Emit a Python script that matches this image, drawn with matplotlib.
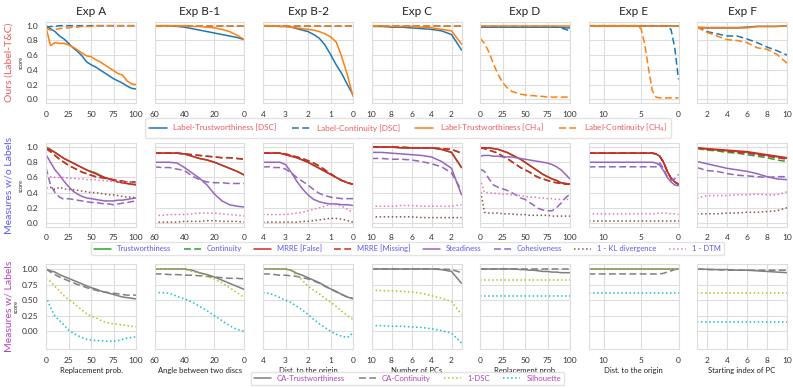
import matplotlib
matplotlib.use("Agg")
import matplotlib.pyplot as plt
from matplotlib.lines import Line2D
import seaborn as sns

sns.set_style("whitegrid")
plt.rcParams['font.family'] = ['Lato', 'DejaVu Sans']

# ---------------- data ----------------
titles = ['Exp A', 'Exp B-1', 'Exp B-2', 'Exp C', 'Exp D', 'Exp E', 'Exp F']
xlabels = ['Replacement prob.', 'Angle between two discs', 'Dist. to the origin',
           'Number of PCs', 'Replacement prob.', 'Dist. to the origin',
           'Starting index of PC']
xticks = [[0, 25, 50, 75, 100], [60, 40, 20, 0], [4, 3, 2, 1, 0], [10, 8, 6, 4, 2],
          [0, 25, 50, 75, 100], [10, 5, 0], [2, 4, 6, 8, 10]]

x_A = [0, 5, 10, 15, 20, 25, 30, 35, 40, 45, 50, 55, 60, 65, 70, 75, 80, 85, 90, 95, 100]
x_B1 = [60, 55, 50, 45, 40, 35, 30, 25, 20, 15, 10, 5, 0]
x_B2 = [4, 3.75, 3.5, 3.25, 3, 2.75, 2.5, 2.25, 2, 1.75, 1.5, 1.25, 1, 0.75, 0.5, 0.25, 0]
x_C = [10, 9, 8, 7, 6, 5, 4, 3, 2, 1]
x_D = [0, 5, 10, 15, 20, 25, 30, 35, 40, 45, 50, 55, 60, 65, 70, 75, 80, 85, 90, 95, 100]
x_E = [12, 10, 8, 6, 5.5, 5, 4.5, 4, 3.5, 3, 2.5, 2, 1.5, 1, 0.5, 0]
x_F = [1, 2, 3, 4, 5, 6, 7, 8, 9, 10]

# row 1: Label-T [DSC], Label-C [DSC], Label-T [CH4], Label-C [CH4]
ours_A = [
    [1.00, .96, .92, .86, .82, .76, .70, .65, .59, .51, .47, .44, .40, .36, .32, .28, .25, .22, .18, .15, .14],
    [.97, .99, .99, 1.0, 1.0, 1.0, 1.0, 1.0, 1.0, 1.0, 1.0, 1.0, 1.0, 1.0, 1.0, 1.0, 1.0, 1.0, 1.0, 1.0, 1.0],
    [.98, .73, .77, .76, .76, .74, .71, .67, .63, .59, .58, .54, .51, .47, .43, .39, .35, .33, .25, .21, .20],
    [.97, .94, .95, .96, .97, .97, .98, .98, .99, .99, .99, 1.0, 1.0, 1.0, 1.0, 1.0, 1.0, 1.0, 1.0, 1.0, 1.0],
]
ours_B1 = [
    [1.0, 1.0, 1.0, .99, .98, .96, .94, .92, .90, .88, .86, .84, .81],
    [1.0, 1.0, 1.0, 1.0, 1.0, 1.0, 1.0, 1.0, 1.0, 1.0, 1.0, 1.0, 1.0],
    [1.0, 1.0, 1.0, 1.0, 1.0, .99, .99, .98, .97, .95, .92, .87, .81],
    [1.0, 1.0, 1.0, 1.0, 1.0, 1.0, 1.0, 1.0, 1.0, 1.0, 1.0, 1.0, 1.0],
]
ours_B2 = [
    [1.0, 1.0, .995, .99, .99, .98, .96, .94, .92, .88, .83, .74, .61, .47, .35, .20, .06],
    [1.0, 1.0, 1.0, 1.0, 1.0, 1.0, 1.0, 1.0, 1.0, 1.0, 1.0, 1.0, 1.0, 1.0, 1.0, 1.0, 1.0],
    [1.0, 1.0, 1.0, .99, .99, .98, .97, .96, .95, .94, .92, .89, .85, .78, .58, .33, .04],
    [1.0, 1.0, 1.0, 1.0, 1.0, 1.0, 1.0, 1.0, 1.0, 1.0, 1.0, 1.0, 1.0, 1.0, 1.0, 1.0, 1.0],
]
ours_C = [
    [.99, .99, .98, .98, .97, .96, .95, .93, .88, .67],
    [1.0, 1.0, 1.0, 1.0, 1.0, 1.0, 1.0, 1.0, 1.0, 1.0],
    [1.0, 1.0, .99, .99, .99, .98, .97, .95, .93, .75],
    [1.0, 1.0, 1.0, 1.0, 1.0, 1.0, 1.0, 1.0, 1.0, 1.0],
]
ours_D = [
    [.98, .98, .98, .98, .98, .98, .98, .98, .98, .98, .98, .98, .98, .98, .98, .98, .98, .98, .98, .97, .97],
    [.99, .99, .99, .99, .99, .99, .99, .99, .99, .99, .99, .99, .99, .99, .99, .99, .99, .98, .97, .95, .93],
    [1.0, 1.0, 1.0, 1.0, 1.0, 1.0, 1.0, 1.0, 1.0, 1.0, 1.0, 1.0, 1.0, 1.0, 1.0, 1.0, 1.0, 1.0, 1.0, 1.0, 1.0],
    [.83, .76, .64, .48, .34, .23, .16, .11, .09, .07, .06, .05, .05, .04, .04, .03, .03, .03, .03, .03, .03],
]
ours_E = [
    [1.0, 1.0, 1.0, 1.0, 1.0, 1.0, 1.0, 1.0, 1.0, 1.0, 1.0, 1.0, 1.0, 1.0, 1.0, 1.0],
    [1.0, 1.0, 1.0, 1.0, 1.0, 1.0, 1.0, 1.0, 1.0, 1.0, 1.0, 1.0, .99, .95, .70, .27],
    [1.0, 1.0, 1.0, 1.0, 1.0, 1.0, 1.0, 1.0, 1.0, 1.0, 1.0, 1.0, 1.0, 1.0, 1.0, 1.0],
    [1.0, 1.0, 1.0, 1.0, 1.0, .96, .75, .42, .12, .03, .02, .02, .02, .02, .02, .02],
]
ours_F = [
    [.97, .97, .97, .97, .97, .98, .99, .99, .99, 1.0],
    [.98, .92, .89, .86, .86, .82, .77, .71, .66, .60],
    [.98, .97, .97, .97, .97, .97, .99, .99, .99, 1.0],
    [.98, .91, .86, .81, .80, .77, .70, .68, .61, .49],
]

# row 2: T, C, MRRE [False], MRRE [Missing], Steadiness, Cohesiveness, 1-KL, 1-DTM
meas_A = [
    [1.0, .97, .93, .89, .85, .82, .79, .76, .73, .70, .68, .66, .63, .60, .58, .56, .54, .53, .52, .51, .51],
    [.98, .94, .89, .84, .80, .76, .73, .70, .67, .65, .63, .61, .60, .59, .58, .57, .56, .55, .54, .54, .54],
    [.99, .96, .93, .89, .85, .82, .79, .76, .73, .70, .67, .65, .62, .60, .58, .56, .54, .53, .52, .51, .50],
    [.98, .94, .89, .84, .80, .76, .73, .70, .67, .65, .63, .61, .60, .59, .58, .57, .56, .55, .54, .54, .54],
    [.90, .80, .70, .63, .55, .48, .42, .38, .35, .33, .32, .31, .30, .29, .29, .29, .30, .30, .31, .32, .33],
    [.73, .50, .40, .34, .31, .32, .31, .30, .29, .28, .27, .27, .26, .25, .25, .24, .25, .26, .27, .28, .29],
    [.46, .47, .44, .47, .45, .44, .44, .43, .42, .41, .40, .40, .39, .38, .37, .37, .36, .35, .34, .34, .33],
    [.62, .61, .60, .60, .60, .59, .59, .58, .58, .57, .57, .57, .56, .56, .55, .55, .54, .54, .54, .54, .54],
]
meas_B1 = [
    [.92, .92, .92, .92, .91, .88, .85, .83, .80, .76, .72, .68, .63],
    [.92, .92, .92, .92, .91, .90, .89, .88, .87, .86, .86, .85, .84],
    [.92, .92, .92, .92, .91, .88, .85, .83, .80, .76, .72, .68, .63],
    [.92, .92, .92, .92, .91, .90, .89, .88, .87, .86, .86, .85, .84],
    [.80, .80, .80, .79, .73, .66, .59, .50, .38, .29, .24, .22, .21],
    [.74, .73, .73, .71, .69, .62, .57, .54, .53, .53, .52, .52, .52],
    [.01, .01, .01, .01, .02, .02, .02, .03, .03, .02, .02, .02, .01],
    [.10, .10, .11, .11, .11, .12, .13, .13, .13, .12, .11, .10, .09],
]
meas_B2 = [
    [.92, .92, .92, .92, .90, .88, .86, .83, .80, .76, .72, .68, .64, .60, .56, .53, .51],
    [.92, .92, .92, .92, .91, .89, .87, .85, .82, .79, .75, .70, .65, .60, .56, .53, .51],
    [.92, .92, .92, .92, .90, .88, .86, .83, .80, .76, .72, .68, .64, .60, .56, .53, .51],
    [.92, .92, .92, .92, .91, .89, .87, .85, .82, .79, .75, .70, .65, .60, .56, .53, .51],
    [.80, .80, .80, .80, .77, .67, .55, .45, .37, .31, .28, .26, .25, .25, .24, .24, .23],
    [.74, .74, .73, .73, .71, .66, .60, .55, .50, .44, .39, .36, .34, .33, .32, .32, .32],
    [.01, .01, .01, .01, .01, .01, .01, .02, .02, .03, .04, .05, .06, .06, .05, .03, .01],
    [.11, .11, .11, .11, .11, .12, .13, .14, .16, .18, .20, .22, .24, .24, .22, .18, .14],
]
meas_C = [
    [1.0, 1.0, 1.0, .99, .99, .99, .99, .97, .93, .73],
    [1.0, 1.0, 1.0, 1.0, .99, .99, .99, .98, .97, .92],
    [1.0, 1.0, 1.0, .99, .99, .99, .99, .97, .93, .73],
    [1.0, 1.0, 1.0, 1.0, .99, .99, .99, .98, .97, .92],
    [.93, .93, .92, .91, .90, .89, .87, .81, .72, .37],
    [.85, .85, .84, .84, .83, .81, .78, .74, .66, .43],
    [.08, .08, .08, .08, .08, .07, .07, .07, .07, .07],
    [.22, .22, .22, .23, .23, .22, .22, .22, .22, .24],
]
meas_D = [
    [.99, .99, .99, .98, .97, .95, .93, .90, .87, .84, .80, .76, .72, .68, .64, .61, .58, .56, .53, .52, .51],
    [.99, .98, .96, .94, .92, .88, .85, .81, .77, .73, .70, .67, .63, .60, .58, .56, .54, .53, .52, .51, .51],
    [.99, .99, .99, .98, .97, .95, .93, .90, .87, .84, .80, .76, .72, .68, .64, .61, .58, .56, .53, .52, .51],
    [.99, .98, .96, .94, .92, .88, .85, .81, .77, .73, .70, .67, .63, .60, .58, .56, .54, .53, .52, .51, .51],
    [.88, .89, .89, .88, .88, .87, .87, .87, .86, .85, .84, .83, .82, .81, .80, .79, .77, .74, .70, .64, .58],
    [.71, .68, .58, .50, .47, .45, .43, .40, .37, .33, .31, .27, .23, .19, .17, .16, .16, .20, .26, .33, .38],
    [.46, .14, .13, .13, .13, .12, .12, .12, .11, .11, .11, .10, .10, .10, .10, .10, .09, .09, .09, .09, .09],
    [.58, .40, .40, .39, .39, .38, .38, .37, .37, .36, .35, .34, .34, .33, .33, .32, .32, .31, .31, .31, .31],
]
meas_E = [
    [.92, .92, .92, .92, .92, .92, .92, .92, .92, .91, .88, .80, .68, .59, .54, .51],
    [.92, .92, .92, .92, .92, .92, .92, .92, .92, .91, .88, .80, .68, .59, .54, .51],
    [.92, .92, .92, .92, .92, .92, .92, .92, .92, .91, .88, .80, .68, .59, .54, .51],
    [.92, .92, .92, .92, .92, .92, .92, .92, .92, .91, .88, .80, .68, .59, .54, .51],
    [.80, .80, .80, .80, .80, .80, .80, .80, .80, .79, .76, .69, .60, .54, .50, .49],
    [.74, .74, .74, .74, .74, .74, .74, .74, .74, .74, .79, .72, .61, .56, .58, .64],
    [.02, .02, .02, .02, .02, .02, .02, .02, .02, .02, .02, .02, .02, .02, .02, .02],
    [.12, .12, .12, .12, .12, .12, .12, .12, .12, .12, .13, .13, .13, .12, .12, .11],
]
meas_F = [
    [.99, .97, .96, .95, .94, .93, .91, .89, .87, .85],
    [.98, .96, .95, .93, .92, .90, .88, .86, .83, .81],
    [.99, .98, .97, .96, .95, .94, .92, .90, .88, .86],
    [.99, .97, .96, .95, .93, .92, .90, .88, .86, .84],
    [.81, .78, .75, .72, .70, .68, .65, .61, .58, .57],
    [.73, .69, .68, .65, .63, .62, .61, .60, .61, .61],
    [.12, .12, .12, .13, .13, .14, .14, .15, .16, .20],
    [.33, .36, .36, .36, .37, .37, .38, .37, .37, .41],
]

# row 3: CA-T, CA-C, 1-DSC, Silhouette
lab_A = [
    [1.0, .97, .95, .91, .88, .85, .82, .79, .76, .73, .70, .68, .65, .63, .61, .59, .57, .55, .54, .53, .52],
    [1.0, .95, .91, .87, .84, .81, .78, .75, .73, .70, .68, .66, .64, .63, .62, .61, .60, .59, .58, .58, .58],
    [.85, .80, .72, .65, .57, .51, .46, .40, .34, .28, .24, .22, .18, .15, .13, .12, .11, .10, .09, .08, .07],
    [.56, .38, .24, .17, .10, .02, -.03, -.07, -.10, -.13, -.14, -.15, -.15, -.16, -.16, -.16, -.15, -.13, -.11, -.10, -.09],
]
lab_B1 = [
    [1.0, 1.0, 1.0, 1.0, 1.0, .98, .94, .91, .87, .82, .77, .72, .67],
    [.92, .92, .91, .91, .90, .90, .89, .88, .87, .86, .85, .85, .84],
    [1.0, 1.0, 1.0, 1.0, 1.0, .96, .93, .88, .84, .78, .70, .62, .54],
    [.62, .62, .61, .56, .52, .47, .40, .33, .25, .17, .09, .03, .00],
]
lab_B2 = [
    [1.0, 1.0, 1.0, 1.0, 1.0, .98, .93, .90, .86, .82, .78, .73, .68, .64, .59, .55, .52],
    [.92, .92, .91, .90, .90, .89, .88, .86, .84, .81, .77, .72, .68, .63, .59, .55, .53],
    [1.0, 1.0, 1.0, 1.0, 1.0, .97, .90, .82, .72, .66, .60, .53, .47, .40, .32, .25, .19],
    [.62, .61, .58, .54, .50, .46, .40, .34, .27, .19, .12, .06, .00, -.05, -.08, -.10, -.03],
]
lab_C = [
    [1.0, 1.0, 1.0, 1.0, 1.0, 1.0, 1.0, .99, .96, .77],
    [1.0, 1.0, 1.0, 1.0, 1.0, 1.0, 1.0, 1.0, .99, .94],
    [.66, .65, .65, .64, .63, .61, .57, .53, .48, .27],
    [.09, .09, .08, .08, .07, .06, .04, .01, -.03, -.19],
]
lab_D = [
    [1.0, 1.0, 1.0, 1.0, 1.0, 1.0, 1.0, 1.0, 1.0, .99, .99, .98, .98, .97, .96, .96, .95, .95, .94, .94, .94],
    [1.0, 1.0, 1.0, 1.0, 1.0, 1.0, 1.0, 1.0, 1.0, 1.0, 1.0, 1.0, 1.0, 1.0, 1.0, 1.0, 1.0, 1.0, 1.0, 1.0, 1.0],
    [.83, .83, .83, .83, .83, .83, .83, .83, .83, .83, .83, .83, .83, .83, .83, .83, .83, .83, .83, .83, .83],
    [.57, .57, .57, .57, .57, .57, .57, .57, .57, .57, .57, .57, .57, .57, .57, .57, .57, .57, .57, .57, .57],
]
lab_E = [
    [1.0, 1.0, 1.0, 1.0, 1.0, 1.0, 1.0, 1.0, 1.0, 1.0, 1.0, 1.0, 1.0, 1.0, 1.0, 1.0],
    [.92, .92, .92, .92, .92, .92, .92, .92, .92, .92, .92, .93, .95, .97, .99, 1.0],
    [1.0, 1.0, 1.0, 1.0, 1.0, 1.0, 1.0, 1.0, 1.0, 1.0, 1.0, 1.0, 1.0, 1.0, 1.0, 1.0],
    [.62, .62, .62, .62, .62, .62, .62, .62, .62, .62, .62, .62, .62, .62, .62, .62],
]
lab_F = [
    [1.0, .995, .99, .99, .98, .98, .97, .96, .95, .94],
    [1.0, .99, .99, .98, .98, .98, .98, .98, .98, .98],
    [.62, .62, .62, .62, .62, .62, .62, .62, .62, .62],
    [.155, .155, .155, .155, .155, .155, .155, .155, .155, .155],
]

xs = [x_A, x_B1, x_B2, x_C, x_D, x_E, x_F]
rows = [
    [ours_A, ours_B1, ours_B2, ours_C, ours_D, ours_E, ours_F],
    [meas_A, meas_B1, meas_B2, meas_C, meas_D, meas_E, meas_F],
    [lab_A, lab_B1, lab_B2, lab_C, lab_D, lab_E, lab_F],
]

labels1 = ['Label-Trustworthiness [DSC]', 'Label-Continuity [DSC]',
           'Label-Trustworthiness [CH$_4$]', 'Label-Continuity [CH$_4$]']
labels2 = ['Trustworthiness', 'Continuity', 'MRRE [False]', 'MRRE [Missing]',
           'Steadiness', 'Cohesiveness', '1 - KL divergence', '1 - DTM']
labels3 = ['CA-Trustworthiness', 'CA-Continuity', '1-DSC', 'Silhouette']

# ---------------- styling ----------------
styles = [
    [('#1f77b4', '-'), ('#1f77b4', '--'), ('#ff7f0e', '-'), ('#ff7f0e', '--')],
    [('#2ca02c', '-'), ('#2ca02c', '--'), ('#d62728', '-'), ('#d62728', '--'),
     ('#9467bd', '-'), ('#9467bd', '--'), ('#8c564b', ':'), ('#e377c2', ':')],
    [('#7f7f7f', '-'), ('#7f7f7f', '--'), ('#bcbd22', ':'), ('#17becf', ':')],
]
row_names = ['Ours (Label-T&C)', 'Measures w/o Labels', 'Measures w/ Labels']
row_colors = ['#f05a5a', '#5a5af5', '#b043b8']
legend_labels = [labels1, labels2, labels3]
legend_fs = [5.9, 5.5, 5.6]
legend_cs = [1.9, 1.6, 1.7]

W, H = 793, 388
fig = plt.figure(figsize=(W / 100, H / 100), dpi=100)

lefts = [46, 154.5, 263, 371.5, 480, 588.5, 697]
aw = 90
row_box = [(22, 103), (143.3, 226.7), (264.3, 349.3)]
ylims = [(-0.05, 1.05), (-0.05, 1.05), (-0.29, 1.075)]
yticks = [[0, .2, .4, .6, .8, 1.0], [0, .2, .4, .6, .8, 1.0], [0, .25, .5, .75, 1.0]]
xlims = [(0, 100), (60, 0), (4, 0), (10, 1), (0, 100), (12, 0), (1, 10)]


def draw_line(ax, x, vals, col, ls):
    if ls == '--':
        ax.plot(x, vals, color=col, lw=1.1, dashes=(4.5, 2.2))
    else:
        ax.plot(x, vals, color=col, ls=ls, lw=1.1)


for r in range(3):
    top, bot = row_box[r]
    for c in range(7):
        ax = fig.add_axes([lefts[c] / W, 1 - bot / H, aw / W, (bot - top) / H])
        for vals, (col, ls) in zip(rows[r][c], styles[r]):
            draw_line(ax, xs[c], vals, col, ls)
        ax.set_xlim(*xlims[c])
        ax.set_ylim(*ylims[r])
        ax.set_xticks(xticks[c])
        ax.set_yticks(yticks[r])
        ax.tick_params(labelsize=6, pad=2, colors='#333333')
        ax.grid(color='#dddddd', lw=0.8)
        for s in ax.spines.values():
            s.set_color('#dddddd')
        if r == 2:
            ax.set_yticklabels(['0.00', '0.25', '0.50', '0.75', '1.00'])
        if c > 0:
            ax.set_yticklabels([])
        else:
            ax.set_ylabel('score', fontsize=4, labelpad=2)
        if r == 0:
            ax.set_title(titles[c], fontsize=8.5, pad=5, color='#222222')
        if r == 2:
            ax.set_xlabel(xlabels[c], fontsize=5.5, labelpad=2, color='#222222')
    fig.text(9 / W, 1 - (top + bot) / 2 / H, row_names[r], rotation=90,
             ha='center', va='center', fontsize=7.5, color=row_colors[r])

legend_pos = [(408, 128), (407.5, 248.5), (407.5, 378.5)]
for r in range(3):
    handles = []
    for col, ls in styles[r]:
        if ls == '--':
            handles.append(Line2D([], [], color=col, lw=1.1, dashes=(4.5, 2.2)))
        else:
            handles.append(Line2D([], [], color=col, ls=ls, lw=1.1))
    leg = fig.legend(handles, legend_labels[r], loc='center', ncol=len(handles),
                     bbox_to_anchor=(legend_pos[r][0] / W, 1 - legend_pos[r][1] / H),
                     fontsize=legend_fs[r], frameon=True, handlelength=2.2,
                     columnspacing=legend_cs[r], borderpad=0.4, handletextpad=0.8)
    leg.get_frame().set_edgecolor('#dddddd')
    for t in leg.get_texts():
        t.set_color(row_colors[r])

fig.savefig('out.png', dpi=100)
